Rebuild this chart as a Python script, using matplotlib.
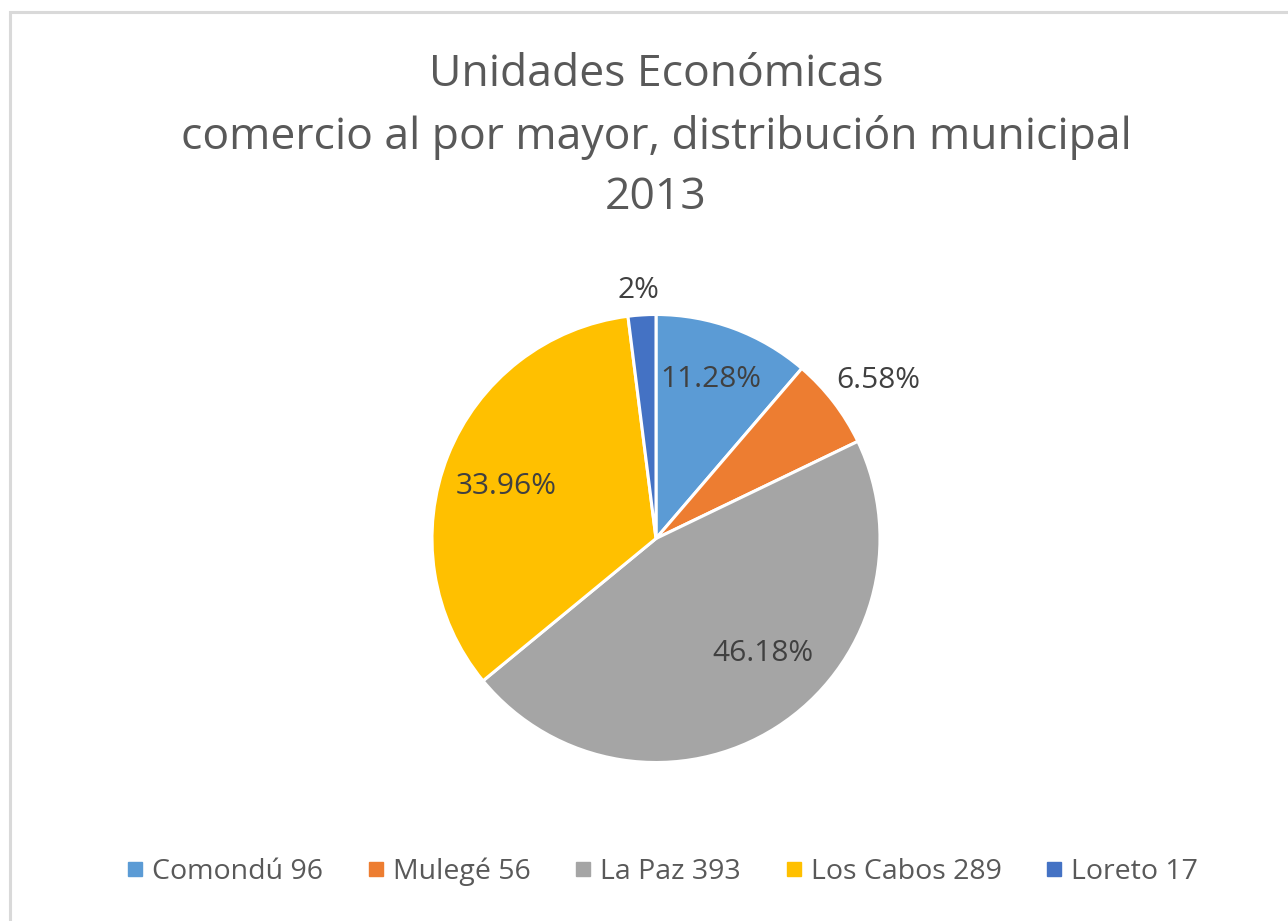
import matplotlib
matplotlib.use("Agg")
import matplotlib.pyplot as plt
from matplotlib.lines import Line2D
from matplotlib.patches import Rectangle
import numpy as np

categories = ["Comondú", "Mulegé", "La Paz", "Los Cabos", "Loreto"]
values = [96, 56, 393, 289, 17]
pct_labels = ["11.28%", "6.58%", "46.18%", "33.96%", "2%"]
colors = ["#5B9BD5", "#ED7D31", "#A5A5A5", "#FFC000", "#4472C4"]
title_lines = ["Unidades Económicas", "comercio al por mayor, distribución municipal", "2013"]

# label placement (radius factor, angle offset deg) per wedge
label_r = [0.75, 1.22, 0.70, 0.71, 1.11]
label_dang = [1.3, -2.1, 10.4, 2.6, 0.4]

plt.rcParams['font.family'] = ['Open Sans', 'DejaVu Sans']
W, H = 1288, 921
fig = plt.figure(figsize=(W / 100, H / 100), dpi=100)
fig.patch.set_facecolor("white")

# chart border (extends beyond image on right/bottom)
fig.add_artist(Rectangle((9.5 / W, -0.1), 1.2, (H - 12.5) / H + 0.1,
                         transform=fig.transFigure, fill=False,
                         edgecolor="#D9D9D9", linewidth=2.2))

cx, cy, R = 656, 538.5, 224
ax = fig.add_axes([(cx - R) / W, (H - cy - R) / H, 2 * R / W, 2 * R / H])
wedges, _ = ax.pie(values, colors=colors, startangle=90, counterclock=False,
                   radius=1.0, wedgeprops=dict(edgecolor="white", linewidth=2.2))
ax.set_xlim(-1, 1)
ax.set_ylim(-1, 1)
ax.set_aspect("equal")
ax.axis("off")

for w, lab, rf, da in zip(wedges, pct_labels, label_r, label_dang):
    ang = np.deg2rad((w.theta1 + w.theta2) / 2 + da)
    ax.text(rf * np.cos(ang), rf * np.sin(ang), lab, ha="center", va="center",
            fontsize=21.5, color="#404040")

ys = [75, 137, 198]
for t, y in zip(title_lines, ys):
    fig.text(cx / W, 1 - y / H, t, ha="center", va="center",
             fontsize=32, color="#595959")

handles = [Line2D([], [], marker="s", linestyle="none", markersize=9.4,
                  markerfacecolor=c, markeredgecolor=c) for c in colors]
labels = [f"{c} {v}" for c, v in zip(categories, values)]
leg = fig.legend(handles, labels, loc="center", bbox_to_anchor=(663 / W, 1 - 872 / H),
                 ncol=5, frameon=False, fontsize=20.5, handlelength=0.5,
                 handletextpad=0.35, columnspacing=1.6, labelcolor="#595959")

fig.savefig("out.png", dpi=100, facecolor="white")
